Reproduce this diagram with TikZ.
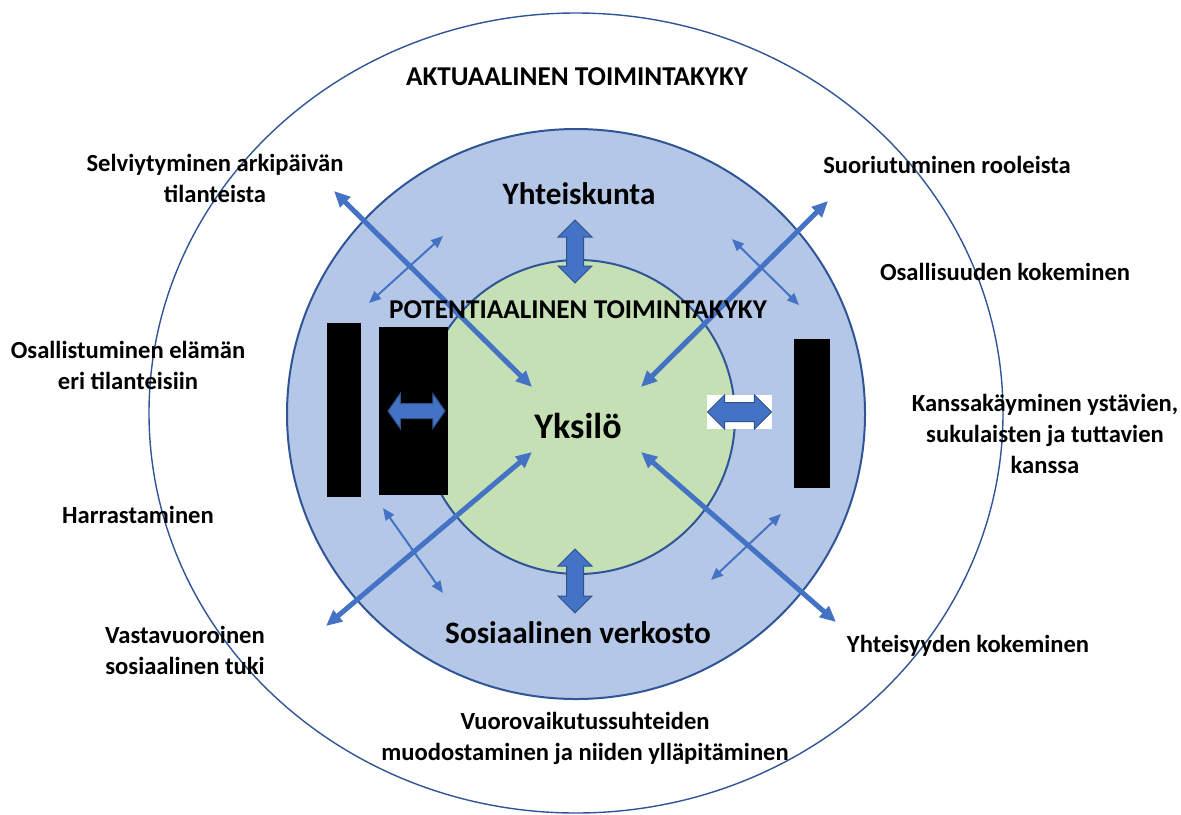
\documentclass[tikz,border=0pt]{standalone}
\usepackage{fontspec}
\setmainfont{Carlito}
\usetikzlibrary{arrows.meta,shapes.arrows,positioning}
\definecolor{ringblue}{HTML}{B4C7E7}
\definecolor{coregreen}{HTML}{C5E0B4}
\definecolor{ringedge}{HTML}{2F5597}
\definecolor{arrowblue}{HTML}{4472C4}
\definecolor{arrowedge}{HTML}{2F528F}
\tikzstyle{factor} = [font=\bfseries\fontsize{12.3}{15.5}\selectfont, align=center]
\tikzstyle{title} = [font=\bfseries\fontsize{13.6}{16}\selectfont]
\tikzstyle{level} = [font=\bfseries\fontsize{15.6}{18}\selectfont]
\tikzstyle{thick link} = [draw=arrowblue, line width=2.5pt, {Triangle[length=8pt,width=7pt]}-{Triangle[length=8pt,width=7pt]}]
\tikzstyle{thin link} = [draw=arrowblue, line width=1pt, {Triangle[length=6pt,width=5pt]}-{Triangle[length=6pt,width=5pt]}]
\tikzstyle{blockarrow} = [double arrow, fill=arrowblue, draw=arrowedge, line width=0.5pt]
\tikzstyle{hidden} = [fill=black, inner sep=0pt]

\begin{document}
\begin{tikzpicture}[x=0.5pt, y=-0.5pt]
 \useasboundingbox (0,0) rectangle (1181,814);
 % rings
 \draw[ringedge, line width=0.7pt] (576,413) ellipse [x radius=427, y radius=400];
 \draw[ringedge, line width=1pt, fill=ringblue] (576,414) ellipse [x radius=289, y radius=285];
 \draw[ringedge, line width=1pt, fill=coregreen] (578,417) circle [radius=157];

 % end points of the links
 \coordinate (nw out) at (334,191);
 \coordinate (nw in) at (532,387);
 \coordinate (ne out) at (828,201);
 \coordinate (ne in) at (641,387);
 \coordinate (sw out) at (326,626);
 \coordinate (sw in) at (532,452);
 \coordinate (se out) at (836,622);
 \coordinate (se in) at (641,452);
 \coordinate (ul a) at (443,236);
 \coordinate (ul b) at (369,303);
 \coordinate (ur a) at (732,239);
 \coordinate (ur b) at (799,305);
 \coordinate (ll a) at (383,508);
 \coordinate (ll b) at (443,593);
 \coordinate (lr a) at (781,514);
 \coordinate (lr b) at (711,580);

 \draw[thin link] (ul a) -- (ul b);
 \draw[thin link] (ur a) -- (ur b);
 \draw[thin link] (ll a) -- (ll b);
 \draw[thin link] (lr a) -- (lr b);
 \draw[thick link] (nw out) -- (nw in);
 \draw[thick link] (ne out) -- (ne in);
 \draw[thick link] (sw out) -- (sw in);
 \draw[thick link] (se out) -- (se in);

 % covered parts
 \node (cover1) [hidden, minimum width=17pt, minimum height=87pt] at (344,410) {};
 \node (cover2) [hidden, minimum width=34.5pt, minimum height=84pt] at (413.5,411) {};
 \node (cover3) [hidden, minimum width=18pt, minimum height=74.5pt] at (812,413.5) {};
 \node (patch) [fill=white, inner sep=0pt, minimum width=32.5pt, minimum height=17pt] at (739.5,412) {};

 % block arrows
 \node (up arrow) [blockarrow, rotate=90, inner sep=4pt, minimum height=31.5pt, double arrow head extend=4.25pt] at (575,251.5) {};
 \node (down arrow) [blockarrow, rotate=90, inner sep=4pt, minimum height=32pt, double arrow head extend=4.25pt] at (575,581) {};
 \node (left arrow) [blockarrow, inner sep=3.5pt, minimum height=28.5pt, double arrow head extend=5pt, double arrow tip angle=110] at (416.5,411) {};
 \node (right arrow) [blockarrow, inner sep=4.5pt, minimum height=32pt, double arrow head extend=3.8pt] at (739.5,412) {};

 % texts
 \node (actual) [title] at (577,77) {AKTUAALINEN TOIMINTAKYKY};
 \node (potential) [title] at (578,310) {POTENTIAALINEN TOIMINTAKYKY};
 \node (society) [level] at (579,194) {Yhteiskunta};
 \node (person) [font=\bfseries\fontsize{18}{21}\selectfont] at (578,426) {Yksilö};
 \node (network) [level] at (578,633) {Sosiaalinen verkosto};
 \node (coping) [factor] at (215,178) {Selviytyminen arkipäivän\\tilanteista};
 \node (roles) [factor] at (947,165) {Suoriutuminen rooleista};
 \node (inclusion) [factor] at (1005,272) {Osallisuuden kokeminen};
 \node (taking part) [factor] at (128,365) {Osallistuminen elämän\\eri tilanteisiin};
 \node (relations) [factor] at (1045,434) {Kanssakäyminen ystävien,\\sukulaisten ja tuttavien\\kanssa};
 \node (hobbies) [factor] at (138,515) {Harrastaminen};
 \node (support) [factor] at (185,650) {Vastavuoroinen\\sosiaalinen tuki};
 \node (community) [factor] at (968,646) {Yhteisyyden kokeminen};
 \node (interaction) [factor] at (585,738) {Vuorovaikutussuhteiden\\muodostaminen ja niiden ylläpitäminen};
\end{tikzpicture}
\end{document}
